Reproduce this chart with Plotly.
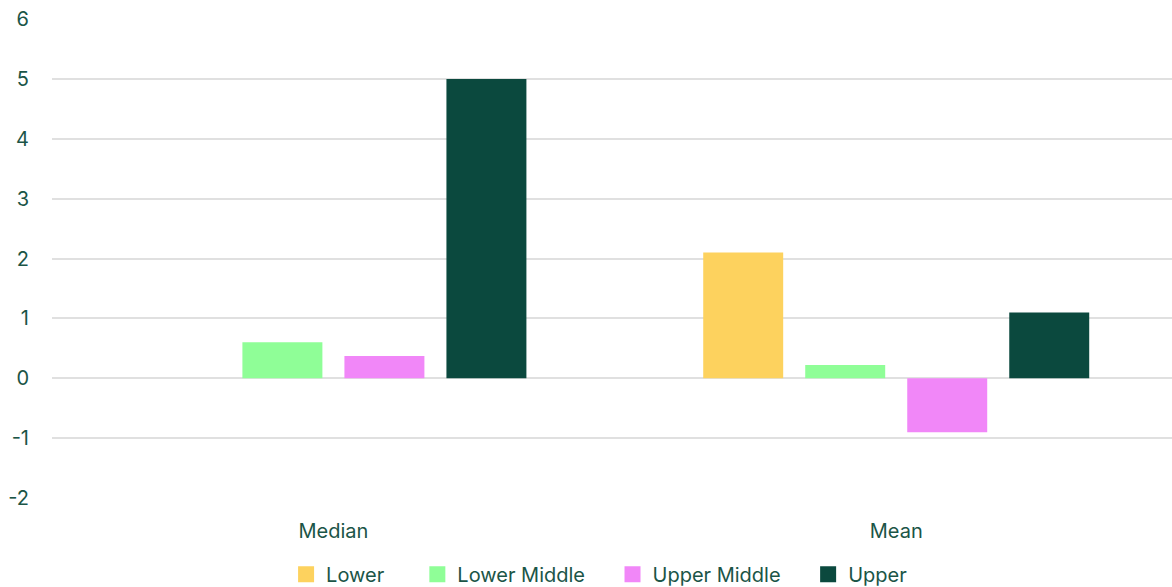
import plotly.graph_objects as go

categories = ["Median", "Mean"]
series_names = ["Lower", "Lower Middle", "Upper Middle", "Upper"]
lower = [0, 2.1]
lower_middle = [0.6, 0.22]
upper_middle = [0.37, -0.9]
upper = [5.0, 1.1]
colors = ["#FDD25E", "#8FFE97", "#F187F8", "#0B493E"]
y_tick_vals = [-2, -1, 0, 1, 2, 3, 4, 5, 6]
y_tick_text = ["-2", "-1", "0", "1", "2", "3", "4", "5", "6"]

text_color = "#1B5547"
pads = ["\u00a0" * 5, "\u00a0" * 4, "\u00a0" * 4, ""]
fig = go.Figure()
for name, vals, col in zip(series_names, [lower, lower_middle, upper_middle, upper], colors):
    fig.add_trace(go.Bar(x=categories, y=vals, name=name, showlegend=False,
                         marker=dict(color=col, line=dict(width=0))))
# legend entries with larger square swatches
for name, col, pad in zip(series_names, colors, pads):
    fig.add_trace(go.Scatter(x=[None], y=[None], mode="markers", name=name + pad,
                             marker=dict(symbol="square", size=17, color=col)))

fig.update_layout(
    width=1172, height=587,
    margin=dict(l=52, r=0, t=19, b=89, autoexpand=False),
    paper_bgcolor="white", plot_bgcolor="white",
    barmode="group", bargap=0.275, bargroupgap=0.216,
    font=dict(family="Inter", size=20, color=text_color),
    showlegend=True,
    legend=dict(orientation="h", x=0.209, xanchor="left", y=-0.159, yanchor="middle",
                font=dict(size=20, color=text_color), itemwidth=30, traceorder="normal",
                itemclick=False),
    xaxis=dict(range=[-0.5, 1.49], showgrid=False, showline=False, ticks="",
               ticklabelstandoff=19, tickfont=dict(size=20, color=text_color)),
    yaxis=dict(range=[-2, 6], tickmode="array", tickvals=y_tick_vals, ticktext=y_tick_text,
               showgrid=True, gridcolor="#E0E0E0", gridwidth=1.5,
               zeroline=True, zerolinecolor="#E0E0E0", zerolinewidth=1.5, showline=False,
               ticks="", ticklabelstandoff=22, tickfont=dict(size=20, color=text_color)),
)

fig.write_html("out.html")
